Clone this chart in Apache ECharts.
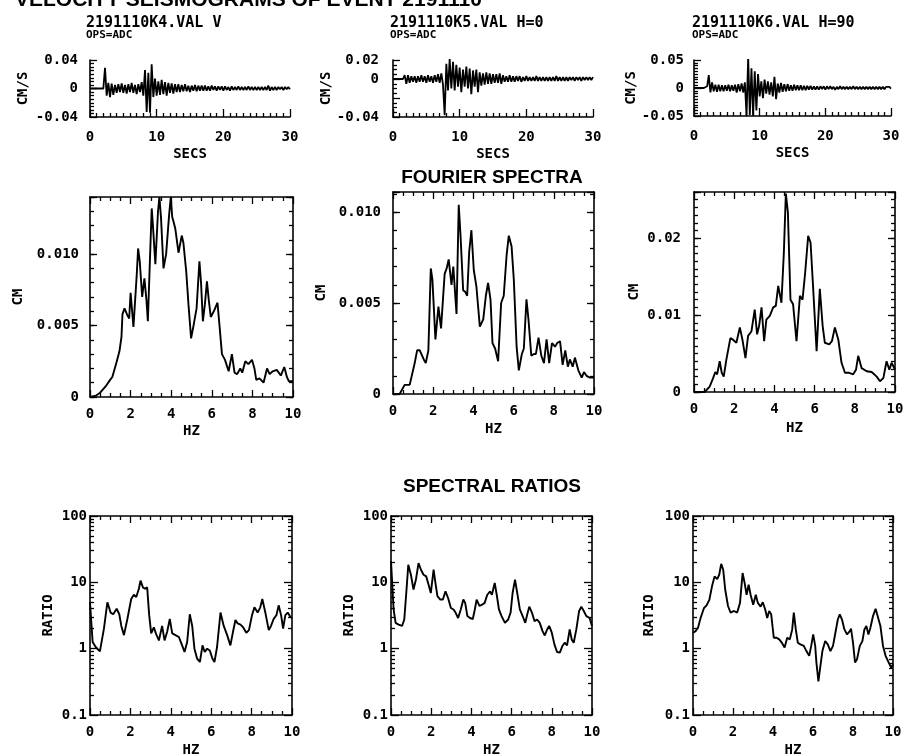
<!DOCTYPE html>
<html><head><meta charset="utf-8">
<script src="https://cdn.jsdelivr.net/npm/echarts/dist/echarts.min.js"></script>
<style>html,body{margin:0;padding:0;background:#fff;}#c{width:905px;height:756px;}</style>
</head><body><div id="c"></div>
<script>
// ---------------- DATA ----------------
const mainTitle = 'VELOCITY SEISMOGRAMS OF EVENT 2191110';
const stationTitles = ['2191110K4.VAL V', '2191110K5.VAL H=0', '2191110K6.VAL H=90'];
const stationSub = 'OPS=ADC';

// seismograms sampled every 0.25 s from 0 to 30 s (cm/s)
const seisStep = 0.25;
const seis1 = [0,0,0,0,0,0,0,0,0,
 0.029,-0.010,0.008,-0.012,0.007,-0.009,0.005,-0.006,0.006,-0.005,0.007,-0.006,0.005,-0.007,0.006,-0.005,0.008,-0.006,0.005,-0.008,0.006,-0.005,0.009,-0.010,0.026,-0.033,0.022,-0.034,0.034,-0.012,0.014,-0.010,
 0.010,-0.009,0.012,-0.008,0.009,-0.010,0.008,-0.006,0.007,-0.007,
 0.006,-0.005,0.006,-0.005,0.005,-0.004,0.006,-0.004,0.004,-0.005,
 0.004,-0.003,0.005,-0.004,0.004,-0.003,0.004,-0.003,0.004,-0.003,
 0.003,-0.003,0.004,-0.002,0.003,-0.003,0.003,-0.002,0.003,-0.003,
 0.003,-0.002,0.002,-0.003,0.003,-0.002,0.002,-0.002,0.003,-0.002,
 0.002,-0.002,0.002,-0.002,0.003,-0.002,0.002,-0.002,0.002,-0.002,
 0.002,-0.002,0.002,-0.002,0.002,-0.002,0.004,-0.003,0.002,-0.002,
 0.002,-0.002,0.002,-0.001,0.002,-0.002,0.002,-0.001,0.002,-0.001];
const seis2 = [0,0,0,0,0,0,0,
 0.004,-0.005,0.004,-0.004,0.003,-0.003,0.003,-0.004,0.003,-0.003,0.004,-0.003,0.003,-0.004,0.004,-0.003,0.003,-0.004,0.004,-0.003,0.005,-0.004,0.006,-0.006,
 -0.038,0.016,-0.012,0.021,-0.010,0.018,-0.012,0.015,-0.008,0.012,-0.014,0.010,-0.008,0.013,-0.010,0.011,-0.016,0.009,-0.008,0.010,-0.014,0.007,
 -0.007,0.006,-0.006,0.007,-0.005,0.006,-0.005,0.005,-0.004,0.005,
 -0.004,0.006,-0.005,0.004,-0.003,0.003,-0.003,0.004,-0.003,0.003,
 -0.003,0.003,-0.002,0.003,-0.003,0.002,-0.002,0.003,-0.002,0.002,
 -0.002,0.002,-0.002,0.003,-0.002,0.002,-0.002,0.002,-0.002,0.002,
 -0.002,0.002,-0.002,0.002,-0.002,0.003,-0.002,0.002,-0.002,0.002,
 -0.002,0.002,-0.002,0.002,-0.001,0.002,-0.002,0.002,-0.001,0.002,
 -0.002,0.002,-0.001,0.002,-0.001,0.002,-0.001,0.002];
const seis3 = [0,0,0,0,0,0,0,0,
 0.003,0.023,-0.008,0.010,-0.006,0.006,-0.007,0.006,-0.006,0.005,-0.006,0.005,-0.005,0.006,-0.006,0.005,-0.005,0.006,-0.008,0.007,-0.006,0.008,-0.008,0.010,
 -0.050,0.056,-0.048,0.035,-0.050,0.030,-0.040,0.025,-0.015,0.012,-0.018,0.015,-0.010,0.012,-0.012,0.010,-0.015,0.020,-0.020,
 0.008,-0.008,0.009,-0.007,0.007,-0.006,0.007,-0.005,0.005,-0.005,
 0.006,-0.004,0.005,-0.004,0.005,-0.004,0.004,-0.004,0.004,-0.003,
 0.004,-0.003,0.003,-0.003,0.003,-0.003,0.003,-0.002,0.003,-0.003,
 0.003,-0.002,0.003,-0.002,0.002,-0.003,0.002,-0.002,0.003,-0.002,
 0.002,-0.002,0.002,-0.002,0.002,-0.002,0.003,-0.002,0.002,-0.002,
 0.002,-0.002,0.002,-0.002,0.002,-0.002,0.002,-0.002,0.002,-0.002,
 0.002,-0.002,0.002,-0.002,0.002,-0.002,0.002,-0.001,0.002,-0.001];

// Fourier spectra (Hz, cm)
const four1Hz = [0,0.3,0.5,0.8,0.99,1.1,1.3,1.45,1.55,1.6,1.7,1.85,1.93,2.0,2.14,2.3,2.37,2.45,2.57,2.68,2.78,2.85,2.95,3.04,3.1,3.22,3.35,3.42,3.5,3.62,3.75,3.9,3.98,4.05,4.11,4.2,4.36,4.52,4.6,4.74,4.85,4.98,5.1,5.25,5.39,5.47,5.56,5.66,5.76,5.85,5.95,6.1,6.28,6.38,6.5,6.65,6.83,6.99,7.12,7.25,7.4,7.5,7.65,7.8,7.98,8.1,8.19,8.35,8.55,8.72,8.85,9.0,9.2,9.4,9.57,9.7,9.8,10];
const four1Cm = [0,0.0001,0.0003,0.0008,0.0012,0.0014,0.0024,0.0032,0.0042,0.0058,0.0062,0.0057,0.0055,0.0073,0.0049,0.0085,0.0104,0.0095,0.0070,0.0083,0.0068,0.0053,0.0095,0.0132,0.0120,0.0093,0.0130,0.0140,0.0125,0.0090,0.0100,0.0128,0.0140,0.0126,0.0123,0.0118,0.0101,0.0113,0.0108,0.0088,0.0065,0.0041,0.0050,0.0062,0.0095,0.0080,0.0053,0.0065,0.0081,0.0068,0.0056,0.0060,0.0066,0.0050,0.0030,0.0026,0.0018,0.0030,0.0017,0.0016,0.0020,0.0017,0.0025,0.0023,0.0026,0.0020,0.0012,0.0013,0.0010,0.0020,0.0016,0.0018,0.0019,0.0015,0.0021,0.0014,0.0011,0.0011];
const four2Hz = [0,0.33,0.58,0.83,1.08,1.2,1.33,1.41,1.53,1.63,1.76,1.88,1.96,2.11,2.26,2.39,2.57,2.67,2.77,2.91,3.0,3.16,3.27,3.36,3.49,3.6,3.69,3.79,3.9,4.02,4.15,4.32,4.49,4.62,4.73,4.85,4.95,5.08,5.23,5.38,5.51,5.65,5.76,5.9,6.01,6.15,6.26,6.41,6.51,6.64,6.74,6.88,7.01,7.11,7.24,7.38,7.51,7.64,7.77,7.91,8.06,8.17,8.31,8.44,8.57,8.7,8.8,8.94,9.05,9.22,9.39,9.5,9.63,9.8,10];
const four2Cm = [0,0,0.0005,0.0005,0.0017,0.0024,0.0024,0.0025,0.0019,0.0017,0.0024,0.0069,0.0063,0.0030,0.0048,0.0036,0.0066,0.0069,0.0074,0.0060,0.0070,0.0044,0.0104,0.0087,0.0057,0.0056,0.0054,0.0078,0.0090,0.0068,0.0059,0.0037,0.0041,0.0054,0.0061,0.0052,0.0028,0.0025,0.0018,0.0050,0.0054,0.0076,0.0087,0.0081,0.0063,0.0026,0.0013,0.0022,0.0025,0.0052,0.0041,0.0021,0.0022,0.0022,0.0031,0.0021,0.0017,0.0030,0.0017,0.0028,0.0026,0.0028,0.0029,0.0016,0.0024,0.0015,0.0019,0.0015,0.0020,0.0013,0.0009,0.0012,0.0010,0.0009,0.0009];
const four3Hz = [0,0.53,0.78,0.95,1.06,1.15,1.28,1.38,1.48,1.61,1.81,1.94,2.11,2.28,2.41,2.56,2.69,2.86,3.02,3.14,3.24,3.36,3.49,3.6,3.77,3.94,4.07,4.19,4.35,4.47,4.57,4.67,4.8,4.93,5.1,5.27,5.4,5.53,5.68,5.8,5.93,6.1,6.26,6.4,6.51,6.73,6.86,7.01,7.18,7.34,7.51,7.72,7.92,8.06,8.17,8.34,8.59,8.84,9.09,9.25,9.42,9.58,9.72,9.83,10];
const four3Cm = [0,0,0.0007,0.0018,0.0026,0.0023,0.0040,0.0025,0.0020,0.0042,0.0070,0.0068,0.0064,0.0084,0.0068,0.0044,0.0073,0.0079,0.0107,0.0075,0.0086,0.0110,0.0066,0.0094,0.0099,0.0110,0.0112,0.0138,0.0116,0.0181,0.0258,0.0234,0.0120,0.0114,0.0066,0.0125,0.0120,0.0155,0.0203,0.0194,0.0134,0.0053,0.0134,0.0086,0.0064,0.0062,0.0066,0.0084,0.0068,0.0038,0.0025,0.0025,0.0023,0.0029,0.0047,0.0031,0.0027,0.0026,0.0020,0.0014,0.0018,0.0040,0.0029,0.0038,0.0029];

// Spectral ratios (Hz, ratio)
const ratio1Hz = [0,0.13,0.28,0.49,0.69,0.86,1.02,1.15,1.32,1.45,1.55,1.68,1.85,2.04,2.17,2.29,2.42,2.5,2.62,2.72,2.83,2.93,3.03,3.16,3.26,3.41,3.57,3.69,3.82,3.95,4.07,4.23,4.4,4.56,4.68,4.81,4.94,5.06,5.17,5.3,5.44,5.57,5.68,5.8,5.93,6.06,6.16,6.29,6.46,6.62,6.79,6.95,7.08,7.2,7.31,7.45,7.58,7.74,7.87,8.02,8.14,8.3,8.43,8.53,8.68,8.85,8.96,9.09,9.23,9.34,9.46,9.56,9.67,9.79,9.92,10];
const ratio1Val = [5.0,1.26,1.06,0.91,2.0,5.0,3.5,3.3,4.0,3.3,2.2,1.6,2.8,5.6,6.5,6.0,8.0,10.6,8.4,8.0,8.4,3.2,1.7,2.1,1.7,1.33,2.2,1.33,1.8,2.8,1.7,1.6,1.5,1.12,0.89,1.26,3.3,2.2,1.0,0.71,0.63,1.12,0.89,1.0,0.94,0.71,0.63,1.06,3.5,2.2,1.6,1.12,1.8,2.7,2.4,2.3,2.1,1.74,1.9,3.2,4.2,3.5,4.2,5.6,3.5,1.9,2.2,2.8,3.2,4.5,3.2,2.0,3.2,3.5,3.0,2.9];
const ratio2Hz = [0,0.05,0.13,0.23,0.38,0.55,0.66,0.76,0.86,0.99,1.12,1.24,1.37,1.49,1.62,1.75,1.87,1.98,2.12,2.21,2.31,2.45,2.58,2.71,2.84,2.98,3.11,3.21,3.34,3.47,3.6,3.69,3.8,3.93,4.07,4.17,4.26,4.4,4.53,4.66,4.79,4.93,5.02,5.16,5.26,5.37,5.5,5.67,5.83,5.95,6.05,6.17,6.28,6.41,6.55,6.68,6.78,6.88,7.01,7.14,7.27,7.4,7.54,7.65,7.77,7.87,8.0,8.13,8.26,8.4,8.53,8.64,8.76,8.89,8.99,9.09,9.22,9.36,9.47,9.59,9.72,9.88,10];
const ratio2Val = [21,10.9,3.9,2.45,2.3,2.2,2.75,6.9,18.4,13,7.8,11,19.5,15.5,13,12.3,9.2,6.9,15.5,9.8,6.2,5.5,5.5,7.3,5.8,4.1,3.9,3.5,2.9,3.9,5.5,4.9,3.1,2.9,2.8,3.9,5.5,4.4,4.6,4.9,6.5,7.3,6.5,9.8,6.5,3.9,3.1,2.45,2.75,3.5,6.9,11,6.9,3.9,3.1,2.45,3.3,4.3,3.5,2.6,2.75,2.45,1.84,1.58,1.95,2.2,1.74,1.16,0.89,0.87,1.1,1.23,1.12,1.95,1.38,1.23,1.95,3.7,4.3,3.7,3.1,2.9,2.2];
const ratio3Hz = [0,0.13,0.25,0.38,0.55,0.68,0.82,0.95,1.08,1.21,1.31,1.41,1.51,1.61,1.75,1.88,2.05,2.21,2.35,2.48,2.58,2.68,2.78,2.88,3.01,3.14,3.24,3.38,3.49,3.61,3.71,3.81,3.91,4.04,4.18,4.31,4.44,4.58,4.71,4.84,4.96,5.04,5.14,5.24,5.37,5.54,5.67,5.81,5.91,6.01,6.11,6.17,6.27,6.37,6.47,6.61,6.74,6.87,7.0,7.12,7.24,7.34,7.45,7.57,7.7,7.84,7.9,8.0,8.1,8.2,8.34,8.47,8.57,8.67,8.77,8.87,9.0,9.13,9.23,9.37,9.5,9.63,9.78,9.91,10];
const ratio3Val = [1.74,1.84,2.07,2.9,4.1,4.5,5.5,8.7,12.3,11.2,13,19,15.5,7.8,4.4,3.5,3.7,3.5,4.9,13.8,9.8,6.5,9.2,6.5,4.6,6.5,4.9,4.3,5.0,3.9,2.9,3.7,3.3,1.46,1.46,1.38,1.23,1.04,1.46,1.38,1.95,3.5,1.95,1.23,1.16,1.1,0.92,0.78,1.1,1.64,1.1,0.62,0.32,0.55,0.92,1.3,1.16,0.92,1.1,1.74,2.75,3.3,2.75,1.95,1.64,1.84,2.0,1.23,0.62,0.69,1.1,1.3,1.95,2.2,1.64,2.07,3.1,4.0,3.9,2.2,1.1,0.78,0.62,0.52,0.58];

// axis ticks / labels
const seisXTicks = [0, 10, 20, 30];
const seisYLabels = [[-0.04, 0, 0.04], [-0.04, 0, 0.02], [-0.05, 0, 0.05]];
const fourYLabels = [[0, 0.005, 0.010], [0, 0.005, 0.010], [0, 0.01, 0.02]];
const ratioYLabels = [0.1, 1, 10, 100];
const logMinor = [0.2,0.3,0.4,0.5,0.6,0.7,0.8,0.9,2,3,4,5,6,7,8,9,20,30,40,50,60,70,80,90];

// ---------------- LAYOUT / STYLE ----------------
const FONT = 'DejaVu Sans Mono';
const BLACK = '#000';
const grids = [
  {left: 90, top: 60, width: 200, height: 57},
  {left: 393, top: 60, width: 200, height: 57},
  {left: 694, top: 60, width: 197, height: 56},
  {left: 90, top: 197, width: 203, height: 200},
  {left: 393, top: 192, width: 201, height: 202},
  {left: 694, top: 192, width: 201, height: 200},
  {left: 90, top: 516, width: 202, height: 199},
  {left: 391, top: 516, width: 201, height: 199},
  {left: 693, top: 516, width: 200, height: 199}
].map(g => Object.assign({outerBoundsMode: 'none', containLabel: false, show: false}, g));

const xAxes = [], yAxes = [], series = [];
const lbl = (extra) => Object.assign({show: true, color: BLACK, fontFamily: FONT, fontWeight: 'bold', fontSize: 14}, extra || {});
const nameStyle = {color: BLACK, fontFamily: FONT, fontWeight: 'bold', fontSize: 14};
const line = (show) => ({show: show, onZero: false, lineStyle: {color: BLACK, width: 1.6}});
const tick = (len, extra) => Object.assign({show: true, inside: true, length: len, lineStyle: {color: BLACK, width: 1.3}}, extra || {});
const minor = (n) => n ? {show: true, splitNumber: n, length: 4, lineStyle: {color: BLACK, width: 1.3}} : {show: false};
function addX(o) { xAxes.push(Object.assign({type: 'value', splitLine: {show: false}, nameLocation: 'middle', nameTextStyle: nameStyle}, o)); return xAxes.length - 1; }
function addY(o) { yAxes.push(Object.assign({type: 'value', splitLine: {show: false}, nameLocation: 'middle', nameTextStyle: nameStyle}, o)); return yAxes.length - 1; }
function fmt(dec) { return v => (Math.abs(v) < 1e-12 ? '0' : v.toFixed(dec)); }

// seismograms
const seisData = [seis1, seis2, seis3];
const seisRanges = [[-0.04, 0.04, 0.04, 8], [-0.04, 0.02, 0.02, 4], [-0.05, 0.05, 0.05, 10]];
const seisNameGap = [60, 29, 30];
const seisLabelMargin = [12, 14, 10];
for (let k = 0; k < 3; k++) {
  const g = k;
  const xi = addX({gridIndex: g, position: 'bottom', min: 0, max: 30, interval: 10,
    axisLine: line(true), axisTick: tick(8), minorTick: minor(10),
    axisLabel: lbl({margin: 13, customValues: seisXTicks}), name: 'SECS', nameGap: 30});
  const r = seisRanges[k];
  const yi = addY({gridIndex: g, position: 'left', min: r[0], max: r[1], interval: r[2],
    axisLine: line(true), axisTick: tick(7), minorTick: minor(r[3]),
    axisLabel: lbl({margin: seisLabelMargin[k], customValues: seisYLabels[k], formatter: fmt(2)}),
    name: 'CM/S', nameGap: seisNameGap[k]});
  series.push({type: 'line', xAxisIndex: xi, yAxisIndex: yi, showSymbol: false, symbol: 'none',
    silent: true, animation: false, clip: true,
    lineStyle: {color: BLACK, width: 1.8}, data: seisData[k].map((v, i) => [i * seisStep, v])});
}

// boxed plots helper
function boxed(g, ymin, ymax, yInt, yMinorInt, yLabels, yFmt, yName, yGap, lblMargin, xGap, xData, yData, isLog) {
  const xi = addX({gridIndex: g, position: 'bottom', min: 0, max: 10, interval: 2,
    axisLine: line(true), axisTick: tick(7), minorTick: minor(4),
    axisLabel: lbl({margin: 10}), name: 'HZ', nameGap: xGap});
  addX({gridIndex: g, position: 'top', min: 0, max: 10, interval: 2,
    axisLine: line(true), axisTick: tick(7), minorTick: minor(4), axisLabel: {show: false}});
  let yi;
  if (!isLog) {
    yi = addY({gridIndex: g, position: 'left', min: ymin, max: ymax, interval: yInt,
      axisLine: line(true), axisTick: tick(7), minorTick: minor(0),
      axisLabel: lbl({margin: lblMargin, customValues: yLabels, formatter: yFmt}), name: yName, nameGap: yGap});
    addY({gridIndex: g, position: 'left', min: ymin, max: ymax, interval: yMinorInt,
      axisLine: line(false), axisTick: tick(4), axisLabel: {show: false}});
    addY({gridIndex: g, position: 'right', min: ymin, max: ymax, interval: yInt,
      axisLine: line(true), axisTick: tick(7), axisLabel: {show: false}});
    addY({gridIndex: g, position: 'right', min: ymin, max: ymax, interval: yMinorInt,
      axisLine: line(false), axisTick: tick(4), axisLabel: {show: false}});
  } else {
    yi = addY({gridIndex: g, type: 'log', logBase: 10, position: 'left', min: ymin, max: ymax,
      axisLine: line(true), axisTick: tick(8, {customValues: yLabels}),
      axisLabel: lbl({margin: lblMargin, customValues: yLabels, formatter: v => String(v)}), name: yName, nameGap: yGap});
    addY({gridIndex: g, type: 'log', logBase: 10, position: 'left', min: ymin, max: ymax,
      axisLine: line(false), axisTick: tick(4, {customValues: logMinor}), axisLabel: {show: false}});
    addY({gridIndex: g, type: 'log', logBase: 10, position: 'right', min: ymin, max: ymax,
      axisLine: line(true), axisTick: tick(8, {customValues: yLabels}), axisLabel: {show: false}});
    addY({gridIndex: g, type: 'log', logBase: 10, position: 'right', min: ymin, max: ymax,
      axisLine: line(false), axisTick: tick(4, {customValues: logMinor}), axisLabel: {show: false}});
  }
  series.push({type: 'line', xAxisIndex: xi, yAxisIndex: yi, showSymbol: false, symbol: 'none',
    silent: true, animation: false, clip: true, smooth: false,
    lineStyle: {color: BLACK, width: 1.9}, data: xData.map((x, i) => [x, yData[i]])});
}

boxed(3, 0, 0.014, 0.005, 0.001, fourYLabels[0], fmt(3), 'CM', 65, 11, 27, four1Hz, four1Cm, false);
boxed(4, 0, 0.0111, 0.005, 0.001, fourYLabels[1], fmt(3), 'CM', 65, 12, 28, four2Hz, four2Cm, false);
boxed(5, 0, 0.026, 0.01, 0.001, fourYLabels[2], fmt(2), 'CM', 53, 13, 29, four3Hz, four3Cm, false);
boxed(6, 0.1, 100, null, null, ratioYLabels, null, 'RATIO', 35, 3, 28, ratio1Hz, ratio1Val, true);
boxed(7, 0.1, 100, null, null, ratioYLabels, null, 'RATIO', 35, 3, 28, ratio2Hz, ratio2Val, true);
boxed(8, 0.1, 100, null, null, ratioYLabels, null, 'RATIO', 37, 3, 28, ratio3Hz, ratio3Val, true);

// texts
const graphic = [
  {type: 'text', x: 15, y: 0, style: {text: mainTitle, fill: BLACK, font: 'bold 21px "Liberation Sans"', verticalAlign: 'middle'}},
  {type: 'text', x: 492, y: 178, style: {text: 'FOURIER SPECTRA', fill: BLACK, font: 'bold 19px "Liberation Sans"', align: 'center', verticalAlign: 'middle'}},
  {type: 'text', x: 492, y: 487, style: {text: 'SPECTRAL RATIOS', fill: BLACK, font: 'bold 19px "Liberation Sans"', align: 'center', verticalAlign: 'middle'}}
];
const titleX = [86, 390, 692];
for (let k = 0; k < 3; k++) {
  graphic.push({type: 'text', x: titleX[k], y: 23, style: {text: stationTitles[k], fill: BLACK, font: 'bold 15px "DejaVu Sans Mono"', verticalAlign: 'middle'}});
  graphic.push({type: 'text', x: titleX[k], y: 35, style: {text: stationSub, fill: BLACK, font: 'bold 11px "DejaVu Sans Mono"', verticalAlign: 'middle'}});
}

const chart = echarts.init(document.getElementById('c'), null, {renderer: 'canvas'});
chart.setOption({
  backgroundColor: '#fff',
  animation: false,
  grid: grids,
  xAxis: xAxes,
  yAxis: yAxes,
  series: series,
  graphic: graphic
});
</script></body></html>
